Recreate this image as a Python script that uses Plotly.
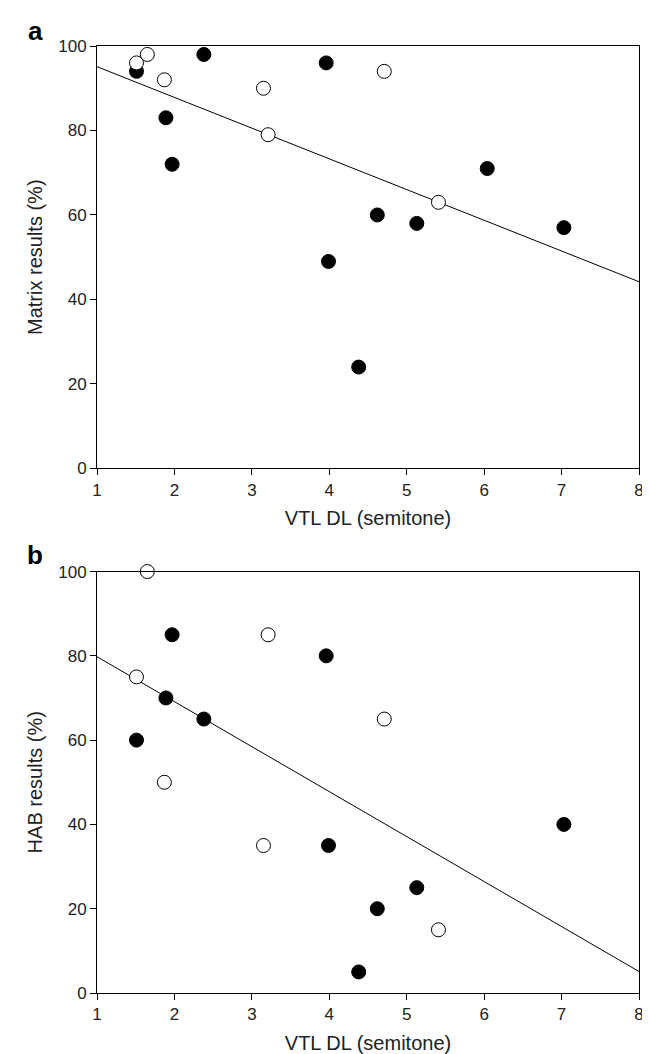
import plotly.graph_objects as go

# Panel a: Matrix results
a_filled_x = [1.51, 1.89, 1.97, 2.38, 3.96, 3.99, 4.38, 4.62, 5.13, 6.04, 7.03]
a_filled_y = [94, 83, 72, 98, 96, 49, 24, 60, 58, 71, 57]
a_open_x = [1.51, 1.65, 1.87, 3.15, 3.21, 4.71, 5.41]
a_open_y = [96, 98, 92, 90, 79, 94, 63]
a_fit_x = [1, 8]
a_fit_y = [95.1, 44.2]

# Panel b: HAB results
b_filled_x = [1.97, 1.89, 2.38, 1.51, 3.96, 3.99, 4.38, 4.62, 5.13, 7.03]
b_filled_y = [85, 70, 65, 60, 80, 35, 5, 20, 25, 40]
b_open_x = [1.65, 1.51, 1.87, 3.21, 3.15, 4.71, 5.41]
b_open_y = [100, 75, 50, 85, 35, 65, 15]
b_fit_x = [1, 8]
b_fit_y = [79.8, 5.1]

x_ticks = [1, 2, 3, 4, 5, 6, 7, 8]
y_ticks = [0, 20, 40, 60, 80, 100]

FONT = "Liberation Sans Narrow, Liberation Sans, Arial, sans-serif"
TXT = "#222"

# pixel layout of the page
W, H = 650, 1054
L, R, T, B = 89, 19, 38, 61
pw = W - L - R
ph = H - T - B

def ydom(top_px, bottom_px):
    return [1 - (bottom_px - T) / ph, 1 - (top_px - T) / ph]

fig = go.Figure()

def add_panel(fx, fy, ox, oy, lx, ly, xa, ya):
    fig.add_trace(go.Scatter(x=lx, y=ly, mode="lines", line=dict(color="black", width=1),
                             xaxis=xa, yaxis=ya, showlegend=False, hoverinfo="skip"))
    fig.add_trace(go.Scatter(x=fx, y=fy, mode="markers",
                             marker=dict(size=14, color="black", line=dict(color="black", width=1)),
                             xaxis=xa, yaxis=ya, showlegend=False, cliponaxis=False))
    fig.add_trace(go.Scatter(x=ox, y=oy, mode="markers",
                             marker=dict(size=14, color="white", line=dict(color="black", width=1)),
                             xaxis=xa, yaxis=ya, showlegend=False, cliponaxis=False))

add_panel(a_filled_x, a_filled_y, a_open_x, a_open_y, a_fit_x, a_fit_y, "x", "y")
add_panel(b_filled_x, b_filled_y, b_open_x, b_open_y, b_fit_x, b_fit_y, "x2", "y2")

axis_common = dict(showgrid=False, zeroline=False, showline=True, linecolor="black", linewidth=1,
                   mirror=True, ticks="outside", ticklen=6, tickcolor="black", tickwidth=1,
                   tickfont=dict(family=FONT, size=17, color=TXT))

xcommon = dict(axis_common, range=[1, 8], tickvals=x_ticks,
               title=dict(text="VTL DL (semitone)", font=dict(family=FONT, size=20, color=TXT), standoff=12))
ycommon = dict(axis_common, range=[0, 100], tickvals=y_ticks)

fig.update_layout(
    width=W, height=H,
    margin=dict(l=L, r=R, t=T, b=B),
    paper_bgcolor="white", plot_bgcolor="white",
    xaxis=dict(xcommon, domain=[0, 1], anchor="y"),
    yaxis=dict(ycommon, domain=ydom(38, 464), anchor="x",
               title=dict(text="Matrix results (%)", font=dict(family=FONT, size=20, color=TXT), standoff=10)),
    xaxis2=dict(xcommon, domain=[0, 1], anchor="y2"),
    yaxis2=dict(ycommon, domain=ydom(568, 993), anchor="x2",
                title=dict(text="HAB results (%)", font=dict(family=FONT, size=20, color=TXT), standoff=10)),
    annotations=[
        dict(text="<b>a</b>", x=(27 - L) / pw, y=1 - (23 - T) / ph, xref="paper", yref="paper",
             showarrow=False, xanchor="center", yanchor="middle",
             font=dict(family="Liberation Sans, Arial", size=26, color="black")),
        dict(text="<b>b</b>", x=(27 - L) / pw, y=1 - (551 - T) / ph, xref="paper", yref="paper",
             showarrow=False, xanchor="center", yanchor="middle",
             font=dict(family="Liberation Sans, Arial", size=26, color="black")),
    ],
)

fig.write_html("out.html")
